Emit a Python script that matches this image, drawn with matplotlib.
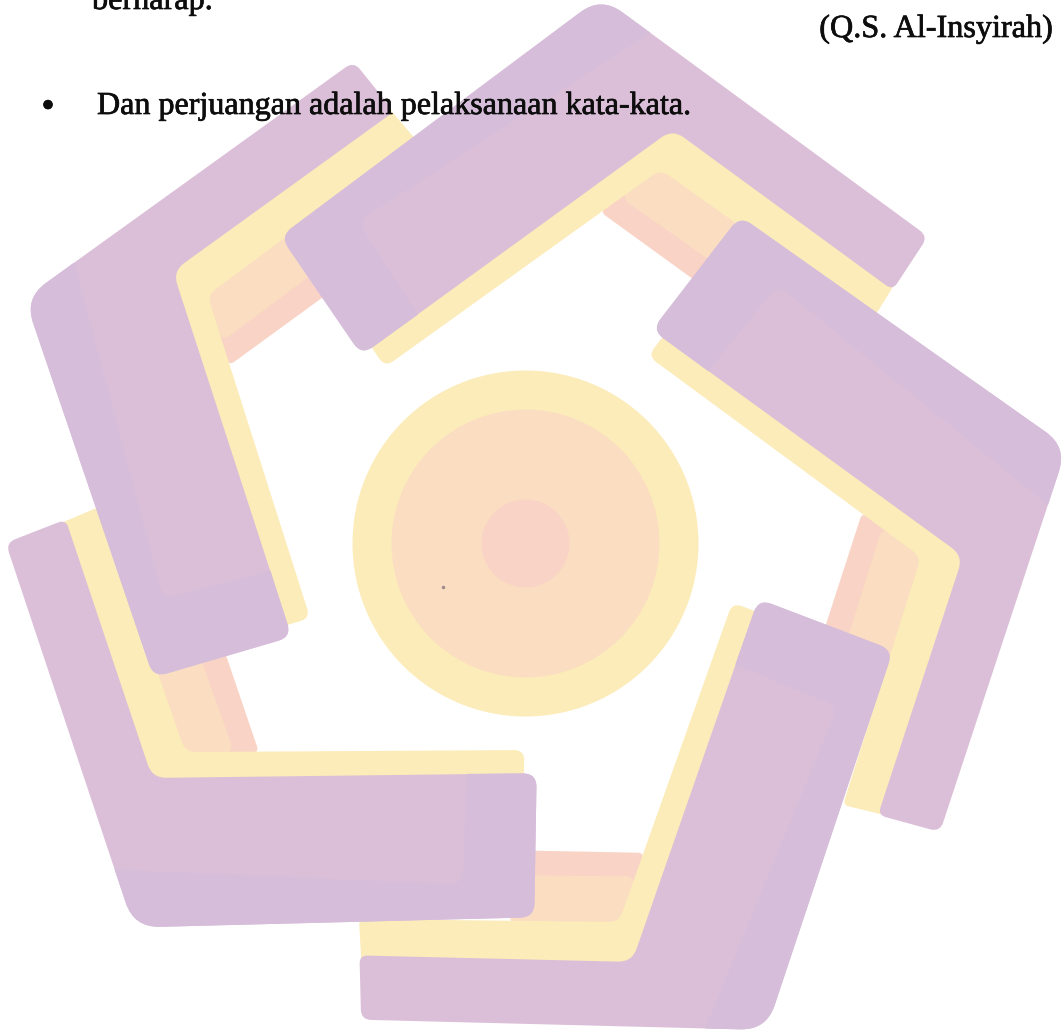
import numpy as np
import matplotlib.pyplot as plt
import matplotlib.patheffects as pe
from matplotlib.path import Path
from matplotlib.patches import PathPatch, Circle

# ----------------------------
# Page text
# ----------------------------
cut_line = "berharap."
quote_ref = "(Q.S. Al-Insyirah)"
bullet_line = "Dan perjuangan adalah pelaksanaan kata-kata."

# ----------------------------
# Watermark logo (pixel units, y down)
# ----------------------------
center = (525.5, 543.5)
ring_radii = [173, 134, 44]
ring_colors = ["#fcecb9", "#fbdec1", "#f9d3c6"]

# one arm of the pinwheel (the right-hand one); the others are rotated copies
purple_pts = [(740, 216), (1067, 447), (940, 832), (878, 815), (963, 556), (652, 330)]
purple_round = [14, 26, 10, 8, 14, 14]
lavender_pts = [(740, 216), (1067, 447), (1048, 505), (778, 285), (708, 371), (652, 330)]
lavender_round = [14, 26, 0, 14, 0, 14]
yellow_pts = [(746, 229), (1050, 455), (930, 826), (843, 805), (921, 557), (648, 356)]
yellow_round = [0, 0, 0, 6, 10, 10]
peach_pts = [(882, 528), (925, 550), (975, 600), (895, 660), (841, 660)]
peach_round = [10, 0, 0, 0, 0]
pink_pts = [(862, 513), (900, 535), (960, 575), (848, 680), (808, 680)]
pink_round = [6, 0, 0, 0, 0]

arm_angles = [0, 73.2, 143.3, 216, 288]
arm_shift = [(0, 0), (-8, -4), (-15, -17), (-6, -5), (0, -2)]

colors = {
    "purple": "#dbbfd8",
    "lavender": "#d6bedb",
    "yellow": "#fcecb9",
    "peach": "#fbdec1",
    "pink": "#f9d3c6",
}


def rounded_path(pts, radii):
    pts = np.asarray(pts, float)
    n = len(pts)
    verts, codes = [], []
    for i in range(n):
        p, a, b = pts[i], pts[i - 1], pts[(i + 1) % n]
        r = radii[i]
        if r <= 0:
            verts.append(p)
            codes.append(Path.LINETO)
            continue
        u1 = (a - p) / np.linalg.norm(a - p)
        u2 = (b - p) / np.linalg.norm(b - p)
        verts += [p + r * u1, p, p + r * u2]
        codes += [Path.LINETO, Path.CURVE3, Path.CURVE3]
    codes[0] = Path.MOVETO
    verts.append(verts[0])
    codes.append(Path.CLOSEPOLY)
    return Path(verts, codes)


def place(pts, angle, shift):
    pts = np.asarray(pts, float) - center
    t = np.radians(angle)
    c, s = np.cos(t), np.sin(t)
    x = pts[:, 0] * c - pts[:, 1] * s + center[0] + shift[0]
    y = pts[:, 0] * s + pts[:, 1] * c + center[1] + shift[1]
    return np.column_stack([x, y])


# ----------------------------
# Figure
# ----------------------------
fig = plt.figure(figsize=(10.62, 10.31), dpi=100)
ax = fig.add_axes([0, 0, 1, 1])
ax.set_xlim(0, 1062)
ax.set_ylim(1031, 0)
ax.axis("off")

# back layers of every arm, then the purple faces on top
for layer, pts, rad in [("pink", pink_pts, pink_round),
                        ("peach", peach_pts, peach_round),
                        ("yellow", yellow_pts, yellow_round)]:
    for ang, sh in zip(arm_angles, arm_shift):
        ax.add_patch(PathPatch(rounded_path(place(pts, ang, sh), rad),
                               facecolor=colors[layer], edgecolor="none", zorder=1))

for layer, pts, rad in [("purple", purple_pts, purple_round),
                        ("lavender", lavender_pts, lavender_round)]:
    for ang, sh in zip(arm_angles, arm_shift):
        ax.add_patch(PathPatch(rounded_path(place(pts, ang, sh), rad),
                               facecolor=colors[layer], edgecolor="none", zorder=2))

for r, col in zip(ring_radii, ring_colors):
    ax.add_patch(Circle(center, r, facecolor=col, edgecolor="none", zorder=3))

ax.plot([443], [587], "o", ms=1.5, color="#a08c8c", zorder=4)

# ----------------------------
# Text
# ----------------------------
font = dict(family=["Liberation Serif", "DejaVu Serif"], color="#0d0d0d", zorder=5,
            path_effects=[pe.withStroke(linewidth=0.5, foreground="#0d0d0d")])
ax.text(92, 9, cut_line, ha="left", va="baseline", fontsize=23.2, **font)
ax.text(1053, 37, quote_ref, ha="right", va="baseline", fontsize=23.2, **font)
ax.text(48, 117, "\u2022", ha="center", va="baseline", fontsize=27, **font)
ax.text(97, 114, bullet_line, ha="left", va="baseline", fontsize=23.1, **font)

fig.savefig("out.png", dpi=100)
